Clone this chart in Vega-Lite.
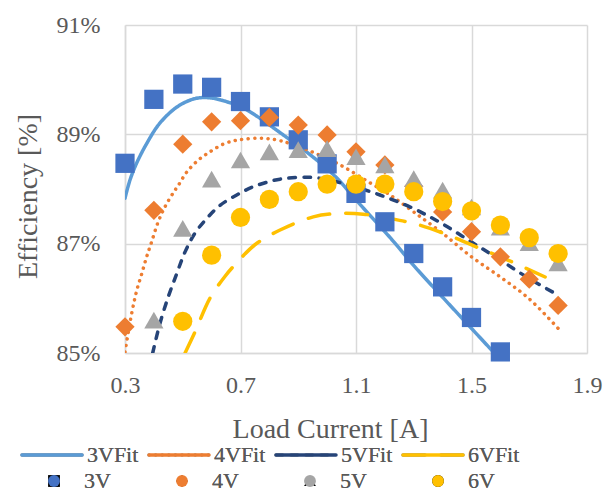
{
  "$schema": "https://vega.github.io/schema/vega-lite/v6.json",
  "autosize": {"type": "none"},
  "padding": {"left": 125, "top": 25, "right": 21, "bottom": 140},
  "width": 462,
  "height": 328,
  "background": "white",
  "config": {
    "view": {"stroke": null},
    "font": "Liberation Serif",
    "axis": {"labelFont": "Liberation Serif", "titleFont": "Liberation Serif", "labelColor": "#595959", "titleColor": "#595959", "titleFontWeight": "normal", "gridColor": "#D9D9D9", "gridWidth": 1.5, "domainColor": "#D9D9D9", "domainWidth": 1.5, "ticks": false, "tickSize": 0, "labelFlush": false, "labelOverlap": false},
    "legend": {"labelFont": "Liberation Serif", "labelColor": "#595959", "labelFontSize": 22, "padding": 0}
  },
  "datasets": {
    "pts": [
      {"x": 0.3, "y": 88.47, "ser": "3V"}, {"x": 0.4, "y": 89.64, "ser": "3V"}, {"x": 0.5, "y": 89.92, "ser": "3V"}, {"x": 0.6, "y": 89.86, "ser": "3V"}, {"x": 0.7, "y": 89.6, "ser": "3V"}, {"x": 0.8, "y": 89.32, "ser": "3V"}, {"x": 0.9, "y": 88.9, "ser": "3V"}, {"x": 1.0, "y": 88.46, "ser": "3V"}, {"x": 1.1, "y": 87.92, "ser": "3V"}, {"x": 1.2, "y": 87.4, "ser": "3V"}, {"x": 1.3, "y": 86.82, "ser": "3V"}, {"x": 1.4, "y": 86.21, "ser": "3V"}, {"x": 1.5, "y": 85.65, "ser": "3V"}, {"x": 1.6, "y": 85.02, "ser": "3V"},
      {"x": 0.3, "y": 85.48, "ser": "4V"}, {"x": 0.4, "y": 87.61, "ser": "4V"}, {"x": 0.5, "y": 88.82, "ser": "4V"}, {"x": 0.6, "y": 89.23, "ser": "4V"}, {"x": 0.7, "y": 89.25, "ser": "4V"}, {"x": 0.8, "y": 89.31, "ser": "4V"}, {"x": 0.9, "y": 89.17, "ser": "4V"}, {"x": 1.0, "y": 88.99, "ser": "4V"}, {"x": 1.1, "y": 88.68, "ser": "4V"}, {"x": 1.2, "y": 88.44, "ser": "4V"}, {"x": 1.3, "y": 88.05, "ser": "4V"}, {"x": 1.4, "y": 87.58, "ser": "4V"}, {"x": 1.5, "y": 87.22, "ser": "4V"}, {"x": 1.6, "y": 86.76, "ser": "4V"}, {"x": 1.7, "y": 86.35, "ser": "4V"}, {"x": 1.8, "y": 85.87, "ser": "4V"},
      {"x": 0.4, "y": 85.6, "ser": "5V"}, {"x": 0.5, "y": 87.28, "ser": "5V"}, {"x": 0.6, "y": 88.18, "ser": "5V"}, {"x": 0.7, "y": 88.53, "ser": "5V"}, {"x": 0.8, "y": 88.68, "ser": "5V"}, {"x": 0.9, "y": 88.72, "ser": "5V"}, {"x": 1.0, "y": 88.74, "ser": "5V"}, {"x": 1.1, "y": 88.59, "ser": "5V"}, {"x": 1.2, "y": 88.44, "ser": "5V"}, {"x": 1.3, "y": 88.19, "ser": "5V"}, {"x": 1.4, "y": 87.98, "ser": "5V"}, {"x": 1.5, "y": 87.67, "ser": "5V"}, {"x": 1.6, "y": 87.3, "ser": "5V"}, {"x": 1.7, "y": 87.02, "ser": "5V"}, {"x": 1.8, "y": 86.65, "ser": "5V"},
      {"x": 0.5, "y": 85.58, "ser": "6V"}, {"x": 0.6, "y": 86.79, "ser": "6V"}, {"x": 0.7, "y": 87.48, "ser": "6V"}, {"x": 0.8, "y": 87.81, "ser": "6V"}, {"x": 0.9, "y": 87.95, "ser": "6V"}, {"x": 1.0, "y": 88.09, "ser": "6V"}, {"x": 1.1, "y": 88.09, "ser": "6V"}, {"x": 1.2, "y": 88.09, "ser": "6V"}, {"x": 1.3, "y": 87.95, "ser": "6V"}, {"x": 1.4, "y": 87.77, "ser": "6V"}, {"x": 1.5, "y": 87.6, "ser": "6V"}, {"x": 1.6, "y": 87.34, "ser": "6V"}, {"x": 1.7, "y": 87.11, "ser": "6V"}, {"x": 1.8, "y": 86.82, "ser": "6V"}
    ],
    "fits": [
      {"x": 0.3, "y": 87.83, "fit": "3VFit"}, {"x": 0.317, "y": 88.16, "fit": "3VFit"}, {"x": 0.34, "y": 88.47, "fit": "3VFit"}, {"x": 0.375, "y": 88.83, "fit": "3VFit"}, {"x": 0.42, "y": 89.2, "fit": "3VFit"}, {"x": 0.48, "y": 89.5, "fit": "3VFit"}, {"x": 0.54, "y": 89.65, "fit": "3VFit"}, {"x": 0.59, "y": 89.67, "fit": "3VFit"}, {"x": 0.65, "y": 89.6, "fit": "3VFit"}, {"x": 0.71, "y": 89.48, "fit": "3VFit"}, {"x": 0.76, "y": 89.32, "fit": "3VFit"}, {"x": 0.84, "y": 89.02, "fit": "3VFit"}, {"x": 0.95, "y": 88.59, "fit": "3VFit"}, {"x": 1.03, "y": 88.22, "fit": "3VFit"}, {"x": 1.1, "y": 87.8, "fit": "3VFit"}, {"x": 1.22, "y": 87.1, "fit": "3VFit"}, {"x": 1.3, "y": 86.6, "fit": "3VFit"}, {"x": 1.4, "y": 86.02, "fit": "3VFit"}, {"x": 1.5, "y": 85.45, "fit": "3VFit"}, {"x": 1.6, "y": 84.88, "fit": "3VFit"},
      {"x": 0.3, "y": 85.02, "fit": "4VFit"}, {"x": 0.323, "y": 85.72, "fit": "4VFit"}, {"x": 0.341, "y": 86.15, "fit": "4VFit"}, {"x": 0.358, "y": 86.45, "fit": "4VFit"}, {"x": 0.375, "y": 86.76, "fit": "4VFit"}, {"x": 0.392, "y": 87.03, "fit": "4VFit"}, {"x": 0.415, "y": 87.4, "fit": "4VFit"}, {"x": 0.439, "y": 87.68, "fit": "4VFit"}, {"x": 0.467, "y": 87.93, "fit": "4VFit"}, {"x": 0.485, "y": 88.07, "fit": "4VFit"}, {"x": 0.514, "y": 88.31, "fit": "4VFit"}, {"x": 0.554, "y": 88.53, "fit": "4VFit"}, {"x": 0.594, "y": 88.68, "fit": "4VFit"}, {"x": 0.64, "y": 88.82, "fit": "4VFit"}, {"x": 0.675, "y": 88.88, "fit": "4VFit"}, {"x": 0.71, "y": 88.91, "fit": "4VFit"}, {"x": 0.77, "y": 88.93, "fit": "4VFit"}, {"x": 0.84, "y": 88.88, "fit": "4VFit"}, {"x": 0.947, "y": 88.68, "fit": "4VFit"}, {"x": 1.045, "y": 88.44, "fit": "4VFit"}, {"x": 1.143, "y": 88.13, "fit": "4VFit"}, {"x": 1.218, "y": 87.89, "fit": "4VFit"}, {"x": 1.3, "y": 87.58, "fit": "4VFit"}, {"x": 1.4, "y": 87.19, "fit": "4VFit"}, {"x": 1.5, "y": 86.76, "fit": "4VFit"}, {"x": 1.6, "y": 86.39, "fit": "4VFit"}, {"x": 1.7, "y": 85.99, "fit": "4VFit"}, {"x": 1.8, "y": 85.45, "fit": "4VFit"},
      {"x": 0.396, "y": 85.0, "fit": "5VFit"}, {"x": 0.421, "y": 85.54, "fit": "5VFit"}, {"x": 0.45, "y": 86.03, "fit": "5VFit"}, {"x": 0.479, "y": 86.45, "fit": "5VFit"}, {"x": 0.508, "y": 86.85, "fit": "5VFit"}, {"x": 0.542, "y": 87.19, "fit": "5VFit"}, {"x": 0.583, "y": 87.46, "fit": "5VFit"}, {"x": 0.629, "y": 87.7, "fit": "5VFit"}, {"x": 0.687, "y": 87.89, "fit": "5VFit"}, {"x": 0.744, "y": 88.04, "fit": "5VFit"}, {"x": 0.837, "y": 88.18, "fit": "5VFit"}, {"x": 0.952, "y": 88.21, "fit": "5VFit"}, {"x": 1.056, "y": 88.1, "fit": "5VFit"}, {"x": 1.183, "y": 87.89, "fit": "5VFit"}, {"x": 1.3, "y": 87.64, "fit": "5VFit"}, {"x": 1.4, "y": 87.36, "fit": "5VFit"}, {"x": 1.5, "y": 87.03, "fit": "5VFit"}, {"x": 1.6, "y": 86.7, "fit": "5VFit"}, {"x": 1.7, "y": 86.36, "fit": "5VFit"}, {"x": 1.8, "y": 86.06, "fit": "5VFit"},
      {"x": 0.508, "y": 85.0, "fit": "6VFit"}, {"x": 0.542, "y": 85.38, "fit": "6VFit"}, {"x": 0.594, "y": 86.0, "fit": "6VFit"}, {"x": 0.646, "y": 86.4, "fit": "6VFit"}, {"x": 0.687, "y": 86.65, "fit": "6VFit"}, {"x": 0.75, "y": 86.98, "fit": "6VFit"}, {"x": 0.837, "y": 87.25, "fit": "6VFit"}, {"x": 0.952, "y": 87.49, "fit": "6VFit"}, {"x": 1.033, "y": 87.55, "fit": "6VFit"}, {"x": 1.125, "y": 87.54, "fit": "6VFit"}, {"x": 1.218, "y": 87.46, "fit": "6VFit"}, {"x": 1.32, "y": 87.34, "fit": "6VFit"}, {"x": 1.437, "y": 87.12, "fit": "6VFit"}, {"x": 1.53, "y": 86.91, "fit": "6VFit"}, {"x": 1.6, "y": 86.76, "fit": "6VFit"}, {"x": 1.755, "y": 86.39, "fit": "6VFit"}
    ]
  },
  "encoding": {
    "x": {"field": "x", "type": "quantitative", "scale": {"domain": [0.3, 1.9], "nice": false, "zero": false},
      "axis": {"values": [0.3, 0.7, 1.1, 1.5, 1.9], "format": ".1f", "labelFontSize": 24, "labelPadding": 20, "title": "Load Current [A]", "titleFontSize": 28, "titleBaseline": "alphabetic", "titleAlign": "center", "titleX": 205, "titleY": 84}},
    "y": {"field": "y", "type": "quantitative", "scale": {"domain": [85, 91], "nice": false, "zero": false},
      "axis": {"values": [85, 87, 89, 91], "labelExpr": "datum.value + '%'", "labelFontSize": 24, "labelPadding": 25, "title": "Efficiency [%]", "titleFontSize": 28, "titleAngle": -90, "titleBaseline": "alphabetic", "titleAlign": "center", "titleX": -89, "titleY": 171}}
  },
  "layer": [
    {
      "data": {"name": "fits"},
      "mark": {"type": "line", "clip": true, "strokeWidth": 3.5, "strokeCap": "round", "interpolate": "catmull-rom"},
      "encoding": {
        "color": {"field": "fit", "type": "nominal", "scale": {"domain": ["3VFit", "4VFit", "5VFit", "6VFit"], "range": ["#5B9BD5", "#ED7D31", "#264478", "#FFC000"]},
          "legend": {"title": null, "orient": "none", "legendX": -105, "legendY": 398, "direction": "horizontal", "columns": 4, "symbolType": "stroke", "symbolSize": 3600, "symbolStrokeWidth": 3.5, "labelOffset": 3, "columnPadding": 3, "encode": {"symbols": {"update": {"strokeCap": {"value": "round"}}}}}},
        "strokeDash": {"field": "fit", "type": "nominal", "scale": {"domain": ["3VFit", "4VFit", "5VFit", "6VFit"], "range": [[1, 0], [0.1, 6.5], [6.5, 8.5], [22, 16]]},
          "legend": {"title": null, "orient": "none", "legendX": -105, "legendY": 398, "direction": "horizontal", "columns": 4, "symbolType": "stroke", "symbolSize": 3600, "symbolStrokeWidth": 3.5, "labelOffset": 3, "columnPadding": 3, "encode": {"symbols": {"update": {"strokeCap": {"value": "round"}}}}}}
      }
    },
    {
      "data": {"name": "pts"},
      "mark": {"type": "point", "filled": true, "size": 370, "opacity": 1, "strokeWidth": 0},
      "encoding": {
        "color": {"field": "ser", "type": "nominal", "scale": {"domain": ["3V", "4V", "5V", "6V"], "range": ["#4472C4", "#ED7D31", "#A5A5A5", "#FFC000"]},
          "legend": {"title": null, "orient": "none", "legendX": -82, "legendY": 445, "direction": "horizontal", "columns": 4, "symbolSize": 140, "labelOffset": 19, "columnPadding": 60}},
        "shape": {"field": "ser", "type": "nominal", "scale": {"domain": ["3V", "4V", "5V", "6V"], "range": ["square", "diamond", "triangle-up", "circle"]},
          "legend": {"title": null, "orient": "none", "legendX": -82, "legendY": 445, "direction": "horizontal", "columns": 4, "symbolSize": 140, "labelOffset": 19, "columnPadding": 60}}
      }
    }
  ],
  "resolve": {"scale": {"color": "independent"}, "legend": {"color": "independent"}}
}
